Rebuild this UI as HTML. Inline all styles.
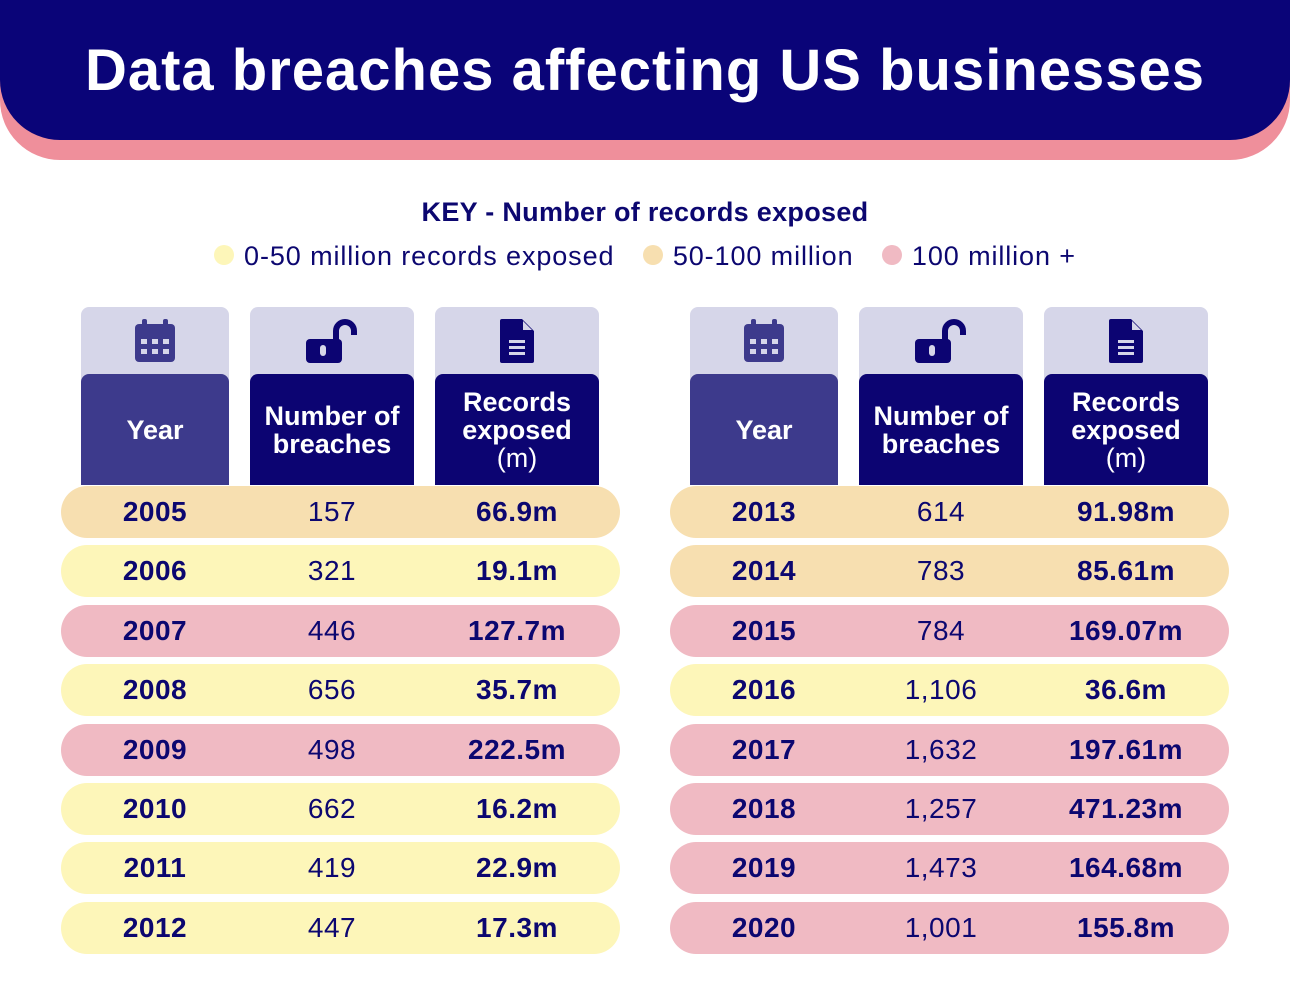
<!DOCTYPE html>
<html><head><meta charset="utf-8"><style>
body{margin:0;width:1290px;height:994px;background:#fff;position:relative;overflow:hidden;font-family:"Liberation Sans",sans-serif;color:#0c0770}
.abs{position:absolute}
.hd{position:absolute;top:307px;height:178px;background:#d6d6e9;border-radius:8px 8px 0 0}
.dk{position:absolute;left:0;right:0;top:67px;bottom:0;border-radius:8px 8px 0 0;color:#fff;font-weight:bold;font-size:27px;line-height:28px;display:flex;align-items:center;justify-content:center;text-align:center}
.ic{position:absolute;left:0;right:0;top:12px;display:flex;justify-content:center}
.row{position:absolute;height:52px;border-radius:26px;width:559px}
.row span{position:absolute;top:0;line-height:52px;font-size:28px;text-align:center;letter-spacing:0.5px}
.o{background:#f7dfb0}.y{background:#fdf6b9}.p{background:#f0bac3}
</style></head><body>
<div class="abs" style="left:0;top:0;width:1290px;height:160px;background:#ef8f9b;border-radius:0 0 60px 60px"></div>
<div class="abs" style="left:0;top:0;width:1290px;height:140px;background:#0a0478;border-radius:0 0 60px 60px"></div>
<div class="abs" style="left:0;top:38px;width:1290px;text-align:center;color:#fff;font-weight:bold;font-size:58px;letter-spacing:1px;line-height:66px">Data breaches affecting US businesses</div>
<div class="abs" style="left:0;top:197px;width:1290px;text-align:center;font-weight:bold;font-size:27px;letter-spacing:0.3px">KEY - Number of records exposed</div>
<div class="abs" style="left:0;top:240px;width:1290px;text-align:center;font-size:27px;line-height:32px;letter-spacing:0.9px">
<span><span style="display:inline-block;width:20px;height:20px;border-radius:50%;background:#fdf6b9;margin-right:10px"></span>0-50 million records exposed</span>
<span style="margin-left:20px"><span style="display:inline-block;width:20px;height:20px;border-radius:50%;background:#f7dfb0;margin-right:10px"></span>50-100 million</span>
<span style="margin-left:20px"><span style="display:inline-block;width:20px;height:20px;border-radius:50%;background:#f0bac3;margin-right:10px"></span>100 million +</span>
</div>
<div id="tables"></div>
<script>
const years1=["2005","2006","2007","2008","2009","2010","2011","2012"];
const breaches1=["157","321","446","656","498","662","419","447"];
const records1=["66.9m","19.1m","127.7m","35.7m","222.5m","16.2m","22.9m","17.3m"];
const cls1=["o","y","p","y","p","y","y","y"];
const years2=["2013","2014","2015","2016","2017","2018","2019","2020"];
const breaches2=["614","783","784","1,106","1,632","1,257","1,473","1,001"];
const records2=["91.98m","85.61m","169.07m","36.6m","197.61m","471.23m","164.68m","155.8m"];
const cls2=["o","o","p","y","p","p","p","p"];
const cal='<svg width="40" height="44" viewBox="0 0 40 44"><rect x="0" y="5" width="40" height="38" rx="4" fill="#3d3a8c"/><rect x="7" y="0" width="5" height="10" rx="2" fill="#3d3a8c"/><rect x="28" y="0" width="5" height="10" rx="2" fill="#3d3a8c"/><g fill="#d6d6e9"><rect x="6" y="20" width="6" height="5"/><rect x="17" y="20" width="6" height="5"/><rect x="28" y="20" width="6" height="5"/><rect x="6" y="30" width="6" height="5"/><rect x="17" y="30" width="6" height="5"/><rect x="28" y="30" width="6" height="5"/></g></svg>';
const lock='<svg width="52" height="44" viewBox="0 0 52 44"><path d="M30 22 V12 a9 9 0 0 1 18 0 V16" stroke="#0c0472" stroke-width="6" fill="none"/><rect x="0" y="20" width="36" height="24" rx="4" fill="#0c0472"/><rect x="14" y="26" width="6" height="11" rx="3" fill="#d6d6e9"/></svg>';
const doc='<svg width="34" height="44" viewBox="0 0 34 44"><path d="M2 0 H22 L34 12 V42 a2 2 0 0 1 -2 2 H2 a2 2 0 0 1 -2 -2 V2 a2 2 0 0 1 2 -2Z" fill="#0c0472"/><path d="M23 2 L32 11 H23Z" fill="#d6d6e9"/><g fill="#d6d6e9"><rect x="9" y="21" width="16" height="3"/><rect x="9" y="27" width="16" height="3"/><rect x="9" y="33" width="16" height="3"/></g></svg>';
const root=document.getElementById('tables');
function table(off,years,br,rec,cls,tag){
  const cols=[[81,148,"Year",cal,"#3d3a8c","year"],[250,164,"Number of<br>breaches",lock,"#0c0472","breaches"],[435,164,"Records<br>exposed<br><span style='font-weight:normal'>(m)</span>",doc,"#0c0472","records"]];
  cols.forEach(c=>{
    const h=document.createElement('div');h.className='hd';h.style.left=(c[0]+off)+'px';h.style.width=c[1]+'px';
    
    
    h.innerHTML='<div class="ic">'+c[3]+'</div><div class="dk" style="background:'+c[4]+'"><div>'+c[2]+'</div></div>';
    root.appendChild(h);
  });
  years.forEach((y,i)=>{
    const r=document.createElement('div');r.className='row '+cls[i];
    r.style.left=(61+off)+'px';r.style.top=(486+i*59.4)+'px';
    
    
    r.innerHTML='<span style="left:20px;width:148px;font-weight:bold">'+y+'</span><span style="left:189px;width:164px">'+br[i]+'</span><span style="left:374px;width:164px;font-weight:bold">'+rec[i]+'</span>';
    root.appendChild(r);
  });
}
table(0,years1,breaches1,records1,cls1,'left-table');
table(609,years2,breaches2,records2,cls2,'right-table');
</script>
</body></html>
